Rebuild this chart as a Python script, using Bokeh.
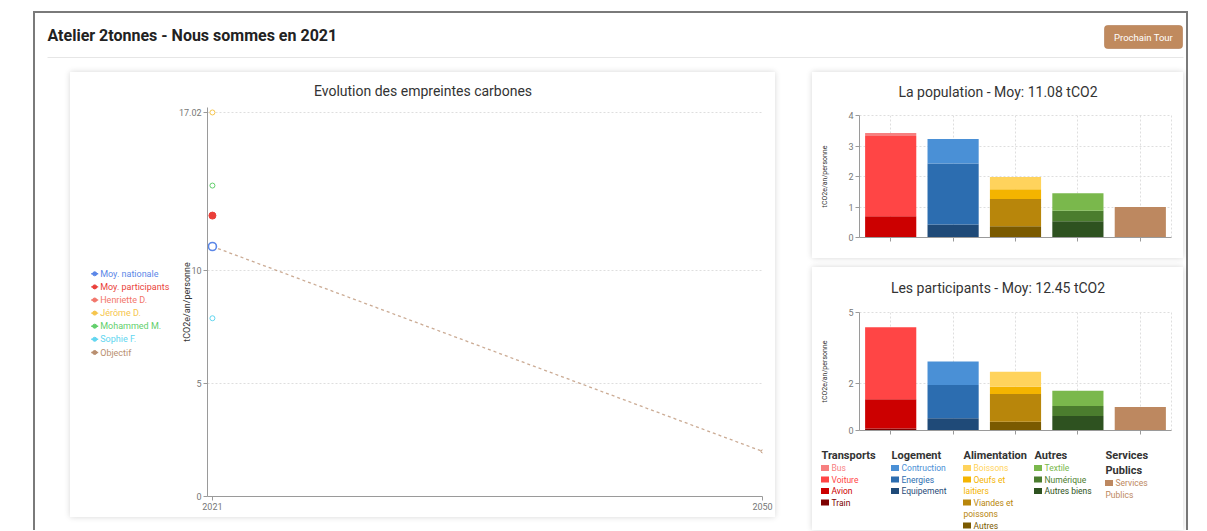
from bokeh.plotting import figure
from bokeh.models import (Range1d, FactorRange, FixedTicker, BoxAnnotation, ColumnDataSource,
                          Spacer)
from bokeh.layouts import row, column
from bokeh.core.properties import value
from bokeh.embed import file_html
from bokeh.resources import INLINE

FONT = "Roboto"

# ---------------- texts ----------------
page_title = "Atelier 2tonnes - Nous sommes en 2021"
button_label = "Prochain Tour"
line_title = "Evolution des empreintes carbones"
pop_title = "La population - Moy: 11.08 tCO2"
part_title = "Les participants - Moy: 12.45 tCO2"
y_label = "tCO2e/an/personne"

# ---------------- line chart data ----------------
years = [2021, 2050]
line_y_ticks = [0, 5, 10, 17.02]
series_names = ["Moy. nationale", "Moy. participants", "Henriette D.", "Jérôme D.",
                "Mohammed M.", "Sophie F.", "Objectif"]
series_colors = ["#5b87e8", "#ea3f3a", "#f2766b", "#f6c54c", "#62cf6c", "#62d6f0", "#b98f70"]
values_2021 = [11.08, 12.45, 11.08, 17.02, 13.78, 7.90]
objectif_values = [11.08, 2.0]

# ---------------- bar chart data ----------------
categories = ["Transports", "Logement", "Alimentation", "Autres", "Services Publics"]

transport_subs = ["Bus", "Voiture", "Avion", "Train"]
transport_colors = ["#f77f7f", "#ff4545", "#cc0000", "#7d0000"]
pop_transport = [0.10, 2.63, 0.69, 0.01]
part_transport = [0.00, 3.05, 1.24, 0.08]

logement_subs = ["Contruction", "Energies", "Equipement"]
logement_colors = ["#4a90d6", "#2c6db0", "#1f4a78"]
pop_logement = [0.80, 2.00, 0.43]
part_logement = [0.99, 1.41, 0.52]

alim_subs = ["Boissons", "Oeufs et laitiers", "Viandes et poissons", "Autres"]
alim_colors = ["#ffd35c", "#f4b400", "#b8860b", "#7a5a00"]
pop_alim = [0.40, 0.32, 0.89, 0.37]
part_alim = [0.64, 0.30, 1.18, 0.37]

autres_subs = ["Textile", "Numérique", "Autres biens"]
autres_colors = ["#7ab84c", "#4b7d2e", "#2e5220"]
pop_autres = [0.57, 0.35, 0.53]
part_autres = [0.64, 0.43, 0.61]

services_subs = ["Services Publics"]
services_colors = ["#bd8860"]
pop_services = [1.00]
part_services = [1.00]

pop_ticks = [0, 1, 2, 3, 4]
part_ticks = [0, 2, 5]

cat_subs = [transport_subs, logement_subs, alim_subs, autres_subs, services_subs]
cat_colors = [transport_colors, logement_colors, alim_colors, autres_colors, services_colors]
pop_values = [pop_transport, pop_logement, pop_alim, pop_autres, pop_services]
part_values = [part_transport, part_logement, part_alim, part_autres, part_services]

GRID = "#dedede"
AXIS = "#9a9a9a"
TICKTXT = "#777777"
CARD_STYLE = {"box-shadow": "0 0 6px rgba(0,0,0,0.16)", "background-color": "white"}


def canvas_fig(w, h):
    """Plain drawing area whose data units are pixels (y downwards)."""
    p = figure(width=w, height=h, x_range=Range1d(0, w), y_range=Range1d(h, 0),
               toolbar_location=None, output_backend="svg", min_border=0,
               x_axis_location=None, y_axis_location=None)
    p.grid.visible = False
    p.outline_line_color = None
    return p


def put_text(p, x, y, text, size, color="#333333", style="normal", align="left"):
    p.text(x=[x], y=[y], text=[text], text_font=value(FONT), text_font_size=size,
           text_font_style=style, text_color=color, text_align=align, text_baseline="middle")


def style_axes(p):
    for ax in (p.xaxis[0], p.yaxis[0]):
        ax.axis_line_color = AXIS
        ax.major_tick_line_color = AXIS
        ax.minor_tick_line_color = None
        ax.major_tick_out = 4
        ax.major_tick_in = 0
        ax.major_label_text_color = TICKTXT
        ax.major_label_text_font = FONT
        ax.major_label_text_font_size = "9px"
        ax.major_label_standoff = 2
        ax.axis_label_text_font = FONT
        ax.axis_label_text_font_style = "normal"
        ax.axis_label_text_color = "#333333"
    for g in (p.xgrid[0], p.ygrid[0]):
        g.grid_line_color = GRID
        g.grid_line_dash = "2 2"


# ---------------- header ----------------
HW, HH = 1151, 59
header = canvas_fig(HW, HH)
put_text(header, 12, 22, page_title, "16px", color="#222222", style="bold")
header.segment(x0=[12], y0=[44], x1=[1148], y1=[44], line_color="#e6e6e6", line_width=1)
header.add_layout(BoxAnnotation(left=1069, right=1147, top=12, bottom=35, fill_color="#c08a5e",
                                fill_alpha=1, line_color="#b07a50", line_alpha=0.6,
                                border_radius=3, editable=False, level="underlay"))
put_text(header, 1108, 23.5, button_label, "9.5px", color="#ffffff", align="center")

# ---------------- line chart card ----------------
LW, TITLE_H = 705, 30
LEG_W = 108
l_title = canvas_fig(LW, TITLE_H)
put_text(l_title, LW / 2, 18, line_title, "14px", align="center")

l_leg = canvas_fig(LEG_W, 415)
legend_rows_y = [273.3, 286.4, 299.5, 312.6, 325.7, 338.8, 352.0]   # page y of legend rows
for i, name in enumerate(series_names):
    c = series_colors[i]
    y = legend_rows_y[i] - 72 - TITLE_H
    l_leg.segment(x0=[20.7], y0=[y], x1=[27.7], y1=[y], line_color=c, line_width=1.4)
    l_leg.scatter([24.2], [y], marker="circle", size=4, line_color=c, fill_color=c)
    put_text(l_leg, 29.7, y, name, "9px", color=c)

lp = figure(width=LW - LEG_W, height=415, x_range=Range1d(2020.74, 2050),
            y_range=Range1d(0, 17.24), toolbar_location=None, output_backend="svg",
            min_border_left=28, min_border_right=13, min_border_top=5, min_border_bottom=21)
lp.outline_line_color = None
style_axes(lp)
lp.xaxis.ticker = FixedTicker(ticks=years)
lp.yaxis.ticker = FixedTicker(ticks=line_y_ticks)
lp.xgrid.ticker = FixedTicker(ticks=[years[1]])
lp.ygrid.ticker = FixedTicker(ticks=line_y_ticks)
lp.yaxis.major_label_overrides = {17.02: "17.02"}
lp.yaxis.axis_label = y_label
lp.yaxis.axis_label_text_font_size = "9px"
lp.yaxis.axis_label_standoff = -16

lp.line(years, objectif_values, line_color=series_colors[6], line_dash="3 3",
        line_width=1.3, line_alpha=0.75)
lp.scatter([years[1]], [objectif_values[1]], marker="circle", size=3,
           line_color=series_colors[6], fill_color="white")

marker_style = {
    0: dict(size=8, line_width=1.6, fill_color="white"),
    1: dict(size=7, line_width=1, fill_color=series_colors[1]),
    2: dict(size=6, line_width=1, fill_color="white"),
    3: dict(size=5, line_width=1, fill_color="white"),
    4: dict(size=5, line_width=1, fill_color="white"),
    5: dict(size=5, line_width=1, fill_color="white"),
}
for i in [2, 5, 4, 3, 1, 0]:
    lp.scatter([years[0]], [values_2021[i]], marker="circle", line_color=series_colors[i],
               **marker_style[i])

left_card = column(l_title, row(column(l_leg), lp), styles=CARD_STYLE)


# ---------------- bar chart cards ----------------
def stacked_chart(values, yend, yticks, height, ft, fb):
    p = figure(width=371, height=height, x_range=FactorRange(*categories),
               y_range=Range1d(0, yend), toolbar_location=None, output_backend="svg",
               min_border_left=47, min_border_right=12, min_border_top=ft, min_border_bottom=fb)
    style_axes(p)
    p.xaxis.major_label_text_color = None
    p.xaxis.major_label_text_font_size = "6px"
    p.xaxis.major_label_standoff = 0
    p.yaxis.ticker = FixedTicker(ticks=yticks)
    p.ygrid.ticker = FixedTicker(ticks=yticks)
    p.yaxis.axis_label = y_label
    p.yaxis.axis_label_text_font_size = "7px"
    p.yaxis.axis_label_standoff = 16
    p.outline_line_color = GRID
    p.outline_line_dash = "2 2"
    data = {"cat": categories}
    stackers, colors = [], []
    for ci, cat in enumerate(categories):
        triples = list(zip(cat_subs[ci], values[ci], cat_colors[ci]))
        for sub, v, c in reversed(triples):
            key = f"{cat}|{sub}"
            col = [0.0] * len(categories)
            col[ci] = v
            data[key] = col
            stackers.append(key)
            colors.append(c)
    p.vbar_stack(stackers, x="cat", width=0.82, fill_color=colors, line_color=None,
                 source=ColumnDataSource(data))
    return p


pop_t = canvas_fig(371, TITLE_H)
put_text(pop_t, 371 / 2, 19, pop_title, "14px", align="center")
pop = stacked_chart(pop_values, 4, pop_ticks, 186 - TITLE_H, 43 - TITLE_H, 21)
pop_card = column(row(pop_t), pop, styles=CARD_STYLE)

part_t = canvas_fig(371, TITLE_H)
put_text(part_t, 371 / 2, 20, part_title, "14px", align="center")
PART_CHART_H = 147
PART_CARD_H = 263
part = stacked_chart(part_values, 5, part_ticks, PART_CHART_H, 45 - TITLE_H, 14)

LEG_H = PART_CARD_H - TITLE_H - PART_CHART_H
part_leg = canvas_fig(371, LEG_H)
leg_top = TITLE_H + PART_CHART_H          # card y of the legend area
wrap_map = {"Oeufs et laitiers": ["Oeufs et", "laitiers"],
            "Viandes et poissons": ["Viandes et", "poissons"],
            "Services Publics": ["Services", "Publics"]}
col_x = [9, 79, 151, 222, 293]
header_y = 187.5 - leg_top
line_step = 11.5
for ci, cat in enumerate(categories):
    x0 = col_x[ci]
    head_lines = wrap_map.get(cat, [cat])
    y = header_y
    for hl in head_lines:
        put_text(part_leg, x0, y, hl, "11px", color="#333333", style="bold")
        y += 15
    y = header_y + 13 + (len(head_lines) - 1) * 15
    for sub, c in zip(cat_subs[ci], cat_colors[ci]):
        lines = wrap_map.get(sub, [sub])
        part_leg.rect([x0 + 3.5], [y], width=[8], height=[6], fill_color=c, line_color=None)
        for k, ln in enumerate(lines):
            put_text(part_leg, x0 + (10 if k == 0 else 0), y, ln, "8.5px", color=c)
            y += line_step

part_card = column(row(part_t), part, row(part_leg), styles=CARD_STYLE)

# ---------------- layout ----------------
right_col = column(pop_card, Spacer(height=9), part_card)
body = row(Spacer(width=35), left_card, Spacer(width=37), right_col)
frame = column(header, body, styles={"border-top": "2px solid #7a7a7a",
                                     "border-left": "2px solid #7a7a7a",
                                     "border-right": "2px solid #7a7a7a",
                                     "background-color": "white"})
root = row(Spacer(width=33), column(Spacer(height=11), frame))

open("out.html", "w").write(file_html(root, INLINE))
